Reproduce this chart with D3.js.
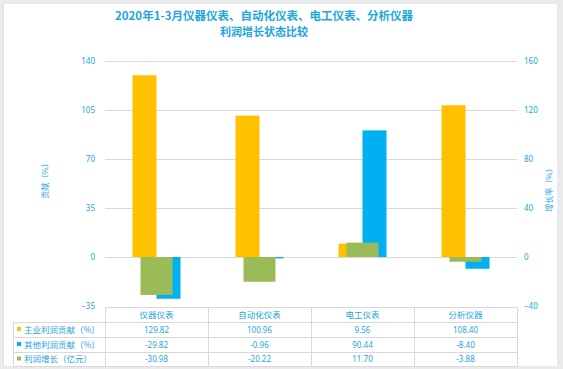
<!DOCTYPE html>
<html><head><meta charset="utf-8">
<script src="https://cdn.jsdelivr.net/npm/d3@7"></script>
<style>
html,body{margin:0;padding:0;background:#e8eaec;}
svg{display:block;}
text{font-family:"Noto Sans CJK SC","Noto Sans",sans-serif;}
</style></head>
<body>
<script>
const categories = ["仪器仪表","自动化仪表","电工仪表","分析仪器"];
const seriesNames = ["主业利润贡献（%）","其他利润贡献（%）","利润增长（亿元）"];
const mainContribution = [129.82, 100.96, 9.56, 108.40];
const otherContribution = [-29.82, -0.96, 90.44, -8.40];
const profitGrowth = [-30.98, -20.22, 11.70, -3.88];
const leftTicks = [-35, 0, 35, 70, 105, 140];
const rightTicks = [-40, 0, 40, 80, 120, 160];
const valueLabels = [
  ["129.82","100.96","9.56","108.40"],
  ["-29.82","-0.96","90.44","-8.40"],
  ["-30.98","-20.22","11.70","-3.88"]
];
const colors = ["#FFC000","#00B0F0","#9BBB59"];
const txt = "#1DA5E0";

const W = 563, H = 369;
const svg = d3.select("body").append("svg").attr("width", W).attr("height", H);

// panel
svg.append("rect").attr("x",0).attr("y",0).attr("width",W).attr("height",H).attr("fill","#e8eaec");
svg.append("rect").attr("x",4).attr("y",4).attr("width",553).attr("height",362).attr("fill","#ffffff");
svg.append("line").attr("x1",3.5).attr("x2",3.5).attr("y1",4).attr("y2",366).attr("stroke","#dcdfe2");

// title
svg.append("text").attr("x",264).attr("y",20).attr("text-anchor","middle")
  .attr("font-size",11.5).attr("font-weight","bold").attr("fill",txt)
  .text("2020年1-3月仪器仪表、自动化仪表、电工仪表、分析仪器");
svg.append("text").attr("x",264).attr("y",36).attr("text-anchor","middle")
  .attr("font-size",11).attr("font-weight","bold").attr("fill",txt)
  .text("利润增长状态比较");

const x0 = 105, x1 = 517;
const x = d3.scaleBand().domain(categories).range([x0, x1]).padding(0);
const yL = d3.scaleLinear().domain([-35, 140]).range([306, 61]);
const yR = d3.scaleLinear().domain([-40, 160]).range([306, 61]);

// gridlines
svg.append("g").selectAll("line").data(leftTicks.filter(d => d !== -35)).join("line")
  .attr("x1", x0).attr("x2", x1)
  .attr("y1", d => Math.round(yL(d)) + 0.5).attr("y2", d => Math.round(yL(d)) + 0.5)
  .attr("stroke", "#d9d9d9").attr("stroke-width", 1);

// axes
const gl = svg.append("g").attr("transform", "translate(95,0)")
  .call(d3.axisLeft(yL).tickValues(leftTicks).tickSize(0).tickPadding(0).tickFormat(d3.format("d")));
gl.select(".domain").remove();
gl.selectAll("text").attr("fill", txt).attr("font-size", 8).style("font-family", '"Noto Sans","Noto Sans CJK SC",sans-serif');

const gr = svg.append("g").attr("transform", "translate(524,0)")
  .call(d3.axisRight(yR).tickValues(rightTicks).tickSize(0).tickPadding(0).tickFormat(d3.format("d")));
gr.select(".domain").remove();
gr.selectAll("text").attr("fill", txt).attr("font-size", 8).style("font-family", '"Noto Sans","Noto Sans CJK SC",sans-serif');

// axis titles
svg.append("text").attr("transform", "translate(48,179) rotate(-90)").attr("text-anchor","middle")
  .attr("font-size",8).attr("fill",txt).text("贡献（%）");
svg.append("text").attr("transform", "translate(552,188) rotate(-90)").attr("text-anchor","middle")
  .attr("font-size",8).attr("fill",txt).text("增长率（%）");

// bars
const bw = 24, gw = 32;
const cx = c => x(c) + x.bandwidth() / 2;
const barsY = (scale, v) => ({ y: Math.min(scale(v), scale(0)), h: Math.abs(scale(v) - scale(0)) });

svg.append("g").selectAll("rect").data(categories).join("rect")
  .attr("x", c => cx(c) - bw)
  .attr("y", (c, i) => barsY(yL, mainContribution[i]).y)
  .attr("width", bw)
  .attr("height", (c, i) => barsY(yL, mainContribution[i]).h)
  .attr("fill", colors[0]);
svg.append("g").selectAll("rect").data(categories).join("rect")
  .attr("x", c => cx(c))
  .attr("y", (c, i) => barsY(yL, otherContribution[i]).y)
  .attr("width", bw)
  .attr("height", (c, i) => barsY(yL, otherContribution[i]).h)
  .attr("fill", colors[1]);
svg.append("g").selectAll("rect").data(categories).join("rect")
  .attr("x", c => cx(c) - gw / 2)
  .attr("y", (c, i) => barsY(yR, profitGrowth[i]).y)
  .attr("width", gw)
  .attr("height", (c, i) => barsY(yR, profitGrowth[i]).h)
  .attr("fill", colors[2]);

// data table
const tb = svg.append("g");
const lc = "#d9d9d9";
const rowsY = [307, 322, 337, 352, 366];
const legX = 13;
tb.append("line").attr("x1", x0).attr("x2", x1).attr("y1", rowsY[0]+0.5).attr("y2", rowsY[0]+0.5).attr("stroke", lc);
for (let k = 1; k < rowsY.length; k++) {
  tb.append("line").attr("x1", legX).attr("x2", x1).attr("y1", rowsY[k]+0.5).attr("y2", rowsY[k]+0.5).attr("stroke", lc);
}
tb.append("line").attr("x1", legX+0.5).attr("x2", legX+0.5).attr("y1", rowsY[1]).attr("y2", rowsY[4]).attr("stroke", lc);
const vx = categories.map(c => x(c)).concat([x1]);
vx.forEach(v => {
  tb.append("line").attr("x1", Math.round(v)+0.5).attr("x2", Math.round(v)+0.5)
    .attr("y1", rowsY[0]).attr("y2", rowsY[4]).attr("stroke", lc);
});
tb.selectAll("text.hdr").data(categories).join("text").attr("class","hdr")
  .attr("x", c => cx(c)).attr("y", (rowsY[0]+rowsY[1])/2 + 3.2)
  .attr("text-anchor","middle").attr("font-size",8.5).attr("fill",txt).text(c => c);
seriesNames.forEach((s, r) => {
  const yc = (rowsY[r+1] + rowsY[r+2]) / 2;
  tb.append("rect").attr("x", 17).attr("y", yc - 2.5).attr("width", 4).attr("height", 4).attr("fill", colors[r]);
  tb.append("text").attr("x", 24).attr("y", yc + 3.2).attr("font-size", 8.5).attr("fill", txt).text(s);
  tb.selectAll(null).data(categories).join("text")
    .attr("x", c => cx(c)).attr("y", yc + 3)
    .attr("text-anchor","middle").attr("font-size",8).attr("fill",txt)
    .style("font-family", '"Noto Sans","Noto Sans CJK SC",sans-serif')
    .text((c, i) => valueLabels[r][i]);
});
</script>
</body></html>
